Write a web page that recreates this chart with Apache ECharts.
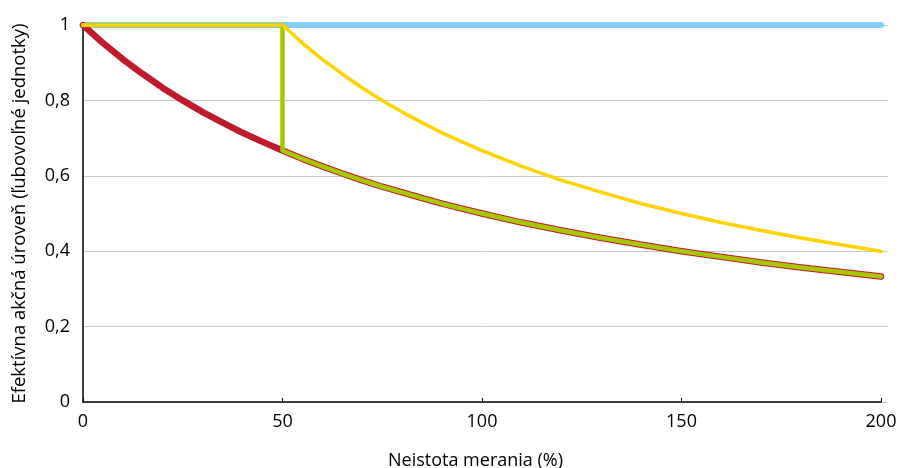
<!DOCTYPE html>
<html>
<head>
<meta charset="utf-8">
<script src="https://cdn.jsdelivr.net/npm/echarts@6/dist/echarts.min.js"></script>
<style>html,body{margin:0;padding:0;background:#fff}#c{width:906px;height:468px}</style>
</head>
<body>
<div id="c"></div>
<script>
// Data
const xValues = [0, 5, 10, 15, 20, 25, 30, 35, 40, 45, 50, 55, 60, 65, 70, 75, 80, 85, 90, 95, 100, 110, 120, 130, 140, 150, 160, 170, 180, 190, 200];
const blueValues = [1, 1, 1, 1, 1, 1, 1, 1, 1, 1, 1, 1, 1, 1, 1, 1, 1, 1, 1, 1, 1, 1, 1, 1, 1, 1, 1, 1, 1, 1, 1];
const redValues = [1, 0.952, 0.909, 0.87, 0.833, 0.8, 0.769, 0.741, 0.714, 0.69, 0.667, 0.645, 0.625, 0.606, 0.588, 0.571, 0.556, 0.541, 0.526, 0.513, 0.5, 0.476, 0.455, 0.435, 0.417, 0.4, 0.385, 0.37, 0.357, 0.345, 0.333];
const yellowValues = [1, 1, 1, 1, 1, 1, 1, 1, 1, 1, 1, 0.952, 0.909, 0.87, 0.833, 0.8, 0.769, 0.741, 0.714, 0.69, 0.667, 0.625, 0.588, 0.556, 0.526, 0.5, 0.476, 0.455, 0.435, 0.417, 0.4];
const greenStepX = [0, 50, 50];
const greenStepY = [1, 1, 0.667];
const yTicks = ['0', '0,2', '0,4', '0,6', '0,8', '1'];
const xTitle = 'Neistota merania (%)';
const yTitle = 'Efektívna akčná úroveň (ľubovoľné jednotky)';

const pairs = (xs, ys) => xs.map((x, i) => [x, ys[i]]);
const greenData = pairs(greenStepX, greenStepY).concat(
  pairs(xValues, redValues).filter(p => p[0] > 50)
);

const font = 'Open Sans';
const chart = echarts.init(document.getElementById('c'), null, { renderer: 'canvas' });
chart.setOption({
  animation: false,
  textStyle: { fontFamily: font },
  grid: [
    { left: 83, right: 25, top: 25, bottom: 66, containLabel: false, outerBoundsMode: 'none' },
    { left: 83, right: 18, top: 25, bottom: 66, containLabel: false, outerBoundsMode: 'none' }
  ],
  xAxis: [
    {
      gridIndex: 0, type: 'value', min: 0, max: 200, interval: 50,
      name: xTitle, nameLocation: 'middle', nameGap: 50,
      nameTextStyle: { fontSize: 18, color: '#000', fontFamily: font, padding: [0, 13, 0, 0] },
      axisLine: { show: true, lineStyle: { color: '#000', width: 1.5 } },
      axisTick: { show: true, inside: true, length: 4, lineStyle: { color: '#000', width: 1 } },
      axisLabel: { fontSize: 18, color: '#000', margin: 11, fontFamily: font },
      splitLine: { show: false }
    },
    {
      gridIndex: 1, type: 'value', min: 0, max: 1, show: false
    }
  ],
  yAxis: [
    {
      gridIndex: 0, type: 'value', min: 0, max: 1, interval: 0.2,
      name: yTitle, nameLocation: 'middle', nameGap: 54, nameRotate: 90,
      nameTextStyle: { fontSize: 18.5, color: '#000', fontFamily: font },
      axisLine: { show: true, lineStyle: { color: '#000', width: 1.5 } },
      axisTick: { show: false },
      axisLabel: {
        fontSize: 18, color: '#000', margin: 13, fontFamily: font,
        formatter: (v) => yTicks[Math.round(v * 5)]
      },
      splitLine: { show: false }
    },
    {
      gridIndex: 1, type: 'value', min: 0, max: 1, interval: 0.2,
      axisLine: { show: false }, axisTick: { show: false }, axisLabel: { show: false },
      splitLine: { show: true, lineStyle: { color: '#c8c8c8', width: 1 } }
    }
  ],
  series: [
    {
      type: 'line', xAxisIndex: 0, yAxisIndex: 0, data: pairs(xValues, blueValues),
      showSymbol: false, lineStyle: { color: '#80d0f5', width: 6, cap: 'round' }, z: 2
    },
    {
      type: 'line', xAxisIndex: 0, yAxisIndex: 0, data: pairs(xValues, redValues),
      showSymbol: false, lineStyle: { color: '#c01a2c', width: 6.5, cap: 'round', join: 'round' }, z: 3
    },
    {
      type: 'line', xAxisIndex: 0, yAxisIndex: 0, data: greenData,
      showSymbol: false, lineStyle: { color: '#a9c700', width: 4.5, cap: 'round', join: 'round' }, z: 4
    },
    {
      type: 'line', xAxisIndex: 0, yAxisIndex: 0, data: pairs(xValues, yellowValues),
      showSymbol: false, lineStyle: { color: '#ffd300', width: 3.5, cap: 'round', join: 'round' }, z: 5
    }
  ]
});
</script>
</body>
</html>
